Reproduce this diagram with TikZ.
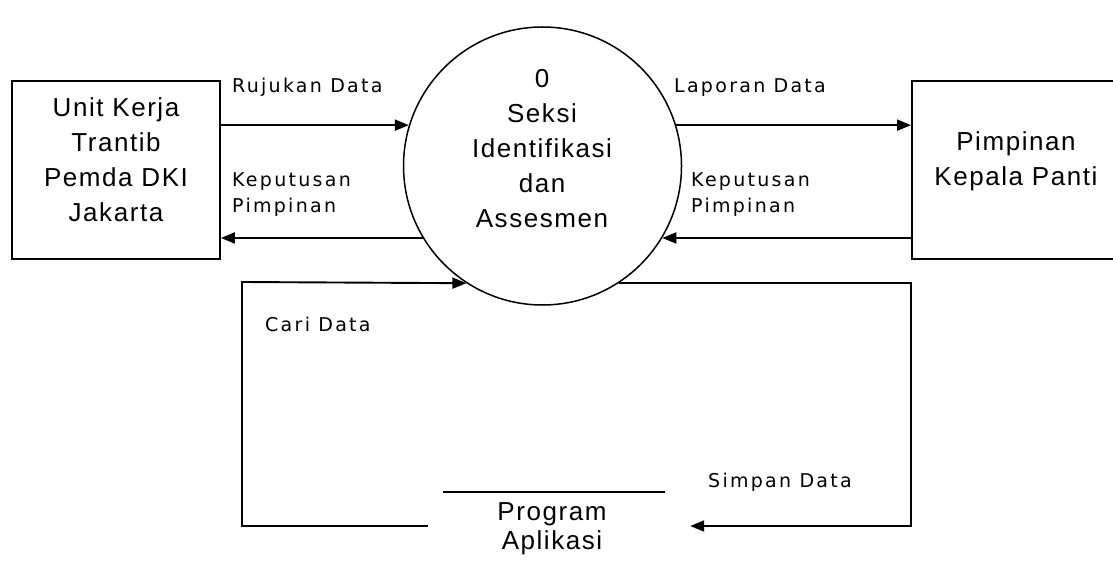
\documentclass[tikz,border=0pt]{standalone}
\usepackage{fontspec}
\newfontfamily\procfont{Liberation Sans}[LetterSpace=6]
\newfontfamily\flowfont{DejaVu Sans}[LetterSpace=12]
\usetikzlibrary{arrows.meta}
\begin{document}
\begin{tikzpicture}[x=1pt,y=-1pt,
  entity/.style={draw, line width=1.9pt, minimum width=208pt, minimum height=178pt, inner sep=0pt},
  process/.style={draw, circle, line width=1.5pt, minimum size=278pt, inner sep=0pt},
  bigtext/.style={font=\procfont\fontsize{26}{35}\selectfont, align=center, inner sep=0pt, anchor=north},
  flowlabel/.style={font=\flowfont\fontsize{19}{26}\selectfont, align=left, inner sep=0pt, anchor=north west},
  flow/.style={line width=1.9pt, -{Triangle[length=14pt,width=11pt]}},
  plainline/.style={line width=1.9pt}
]
\useasboundingbox (0,0) rectangle (1113,561);
\clip (0,0) rectangle (1113,561);

% external entities
\node[entity] (unit) at (116,170) {};
\node[bigtext] (unitText) at (116,97.5) {Unit Kerja\\Trantib\\Pemda DKI\\Jakarta};
\node[entity] (kepala) at (1016,170) {};
\node[bigtext] (kepalaText) at (1016,131.5) {Pimpinan\\Kepala Panti};

% process
\node[process] (seksi) at (542.5,166) {};
\node[bigtext] (seksiText) at (542,69.5) {0\\Seksi\\Identifikasi\\dan\\Assesmen};

% data store
\node[minimum width=262pt, minimum height=68pt, inner sep=0pt] (store) at (559,526) {};
\draw[plainline] ([xshift=15pt]store.north west) -- ([xshift=-25pt]store.north east);
\node[bigtext, font=\procfont\fontsize{26}{29}\selectfont] (storeText) at (552,502.5) {Program\\Aplikasi};

% data flows
\draw[flow] (unit.east |- seksi.163) -- (seksi.163);
\draw[flow] (seksi.211) -- (unit.east |- seksi.211);
\draw[flow] (seksi.17) -- (kepala.west |- seksi.17);
\draw[flow] (kepala.west |- seksi.329) -- (seksi.329);
\draw[flow] (store.west) -| (242,282) -- (seksi.237);
\draw[flow] (seksi.303) -| (kepala.west |- store.east) -- (store.east);

% flow labels
\node[flowlabel] (lRujukan) at (232,78) {Rujukan Data};
\node[flowlabel] (lKepL) at (232,172) {Keputusan\\Pimpinan};
\node[flowlabel] (lLaporan) at (674,78) {Laporan Data};
\node[flowlabel] (lKepR) at (691,172) {Keputusan\\Pimpinan};
\node[flowlabel] (lCari) at (265,317) {Cari Data};
\node[flowlabel] (lSimpan) at (708,473) {Simpan Data};
\end{tikzpicture}
\end{document}
